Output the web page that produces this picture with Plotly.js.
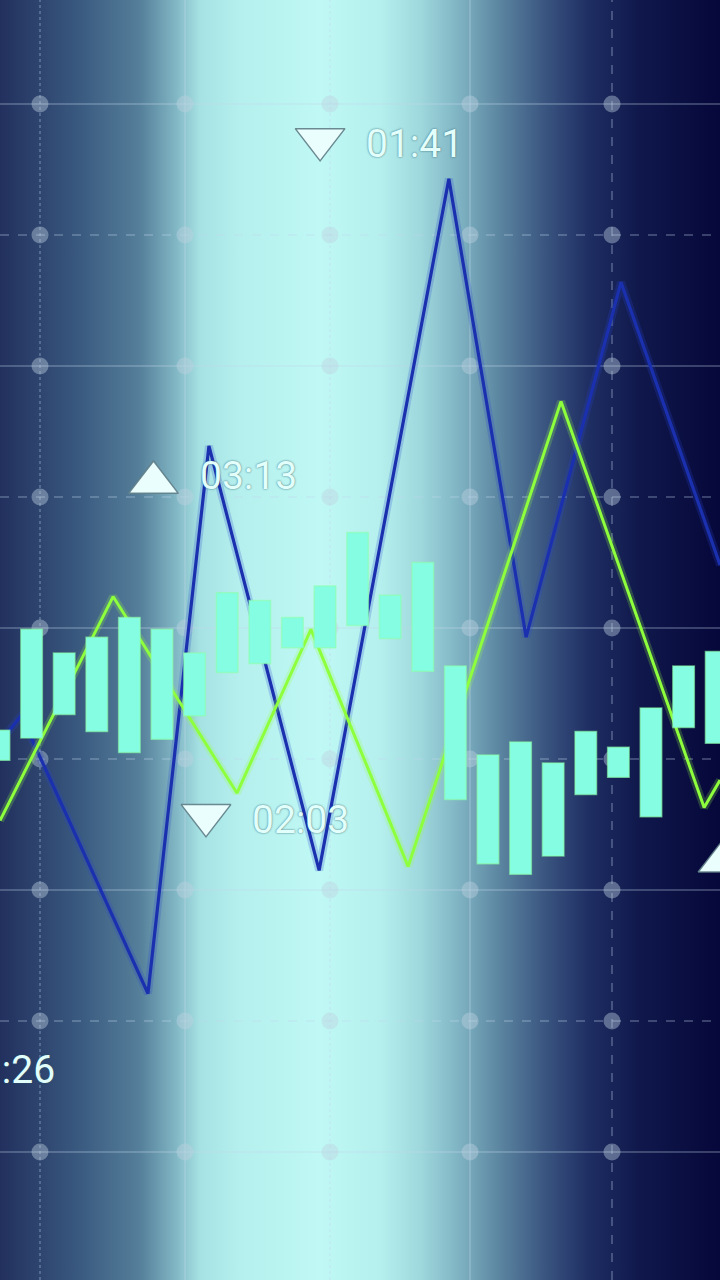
<!DOCTYPE html>
<html>
<head>
<meta charset="utf-8">
<script src="https://cdn.plot.ly/plotly-3.0.1.min.js"></script>
<style>
  html, body { margin: 0; padding: 0; background: #07083a; }
  #chart {
    width: 720px; height: 1280px;
    background: linear-gradient(to right,
      #22305e 0px, #3a5a80 80px, #557f9a 140px, #80b5c3 175px, #a6e2e4 200px,
      #b5f0ee 240px, #bff8f4 320px, #b5f0ee 380px, #9fd8dd 420px, #7eb2c2 460px,
      #5b85a0 500px, #3a5580 545px, #1e2d62 590px, #10184b 640px, #06073a 720px);
  }
</style>
</head>
<body>
<div id="chart"></div>
<script>
// ---- data ----
const barIndex = [0,1,2,3,4,5,6,7,8,9,10,11,12,13,14,15,16,17,18,19,20,21,22];
const barHigh = [42.2,49.9,48.1,49.3,50.8,49.9,48.1,52.7,52.1,50.8,53.2,57.3,52.5,55.0,47.1,40.3,41.3,39.7,42.1,40.9,43.9,47.1,48.2];
const barLow  = [39.9,41.6,43.4,42.1,40.5,41.5,43.3,46.6,47.3,48.5,48.5,50.2,49.2,46.7,36.9,32.0,31.2,32.6,37.3,38.6,35.6,42.4,41.2];

const blueX = [0.03, 0.68, 4.57, 6.44, 9.82, 13.80, 16.17, 19.08, 22.12];
const blueY = [41.3, 43.3, 22.1, 63.9, 31.5, 84.3, 49.3, 76.4, 54.8];

const greenX = [0.03, 3.50, 7.30, 9.57, 12.55, 17.24, 21.63, 22.12];
const greenY = [35.3, 52.4, 37.4, 49.9, 31.8, 67.3, 36.3, 38.4];

const gridX = [1.258, 5.706, 10.153, 14.448, 18.804];
const gridXDash = ['dot', 'solid', 'dot', 'solid', 'dash'];
const gridY = [10, 20, 30, 40, 50, 60, 70, 80, 90];
const gridYDash = ['solid', 'dash', 'solid', 'dash', 'solid', 'dash', 'solid', 'dash', 'solid'];

const sigX = [4.74, 9.85, 6.35, 22.21, -2.67];
const sigY = [61.1, 87.3, 35.7, 32.2, 15.7];
const sigDir = ['up', 'down', 'down', 'up', 'up'];
const sigLabel = ['03:13', '01:41', '02:03', '', '01:26'];

// ---- axes ranges ----
const X0 = 0.031, X1 = 22.117;
const Y0 = 0.23, Y1 = 97.94;

const gridColor = 'rgba(195,215,235,0.36)';

const shapes = [];
gridX.forEach((gx, i) => shapes.push({
  type: 'line', xref: 'x', yref: 'paper', x0: gx, x1: gx, y0: 0, y1: 1,
  line: { color: gridColor, width: 1.5, dash: gridXDash[i] }, layer: 'below'
}));
gridY.forEach((gy, i) => shapes.push({
  type: 'line', xref: 'paper', yref: 'y', x0: 0, x1: 1, y0: gy, y1: gy,
  line: { color: gridColor, width: 1.5, dash: gridYDash[i] }, layer: 'below'
}));

const dotX = [], dotY = [];
gridX.forEach(gx => gridY.forEach(gy => { dotX.push(gx); dotY.push(gy); }));

const traces = [
  { type: 'scatter', mode: 'markers', x: dotX, y: dotY, xaxis: 'x', yaxis: 'y',
    marker: { size: 17, color: 'rgba(190,210,225,0.42)' }, hoverinfo: 'skip' },
  { type: 'scatter', mode: 'lines', x: blueX, y: blueY, xaxis: 'x', yaxis: 'y',
    line: { color: 'rgba(40,70,210,0.22)', width: 8 }, hoverinfo: 'skip' },
  { type: 'scatter', mode: 'lines', x: blueX, y: blueY, xaxis: 'x', yaxis: 'y',
    line: { color: '#1a30ae', width: 3.2 } },
  { type: 'scatter', mode: 'lines', x: greenX, y: greenY, xaxis: 'x', yaxis: 'y',
    line: { color: 'rgba(150,255,70,0.22)', width: 8 }, hoverinfo: 'skip' },
  { type: 'scatter', mode: 'lines', x: greenX, y: greenY, xaxis: 'x', yaxis: 'y',
    line: { color: '#8dff3c', width: 3 } },
  { type: 'bar', x: barIndex, y: barHigh.map((h, i) => h - barLow[i]), base: barLow,
    xaxis: 'x2', yaxis: 'y2', width: 0.66,
    marker: { color: '#84fde3', line: { color: 'rgba(140,255,170,0.6)', width: 1.5 } } },
  { type: 'scatter', mode: 'markers', x: sigX, y: sigY, xaxis: 'x2', yaxis: 'y2',
    marker: {
      size: 43,
      symbol: sigDir.map(d => d === 'up' ? 'triangle-up' : 'triangle-down'),
      color: '#eafffd',
      line: { color: 'rgba(95,125,135,0.9)', width: 1.5 }
    } }
];

const annotations = sigLabel.map((t, i) => t ? ({
  xref: 'paper', yref: 'paper',
  x: (sigX[i] - X0) / (X1 - X0), y: (sigY[i] - Y0) / (Y1 - Y0),
  text: t, showarrow: false, xanchor: 'left', yanchor: 'middle',
  xshift: 44, yshift: sigDir[i] === 'up' ? 7 : -5,
  font: { family: 'Roboto', size: 39, weight: 400, color: '#e2fffb',
          shadow: '0px 0px 2px rgba(40,90,105,0.95)' }
}) : null).filter(a => a);

const axisCommon = { visible: false, fixedrange: true };
const layout = {
  width: 720, height: 1280,
  margin: { l: 0, r: 0, t: 0, b: 0, pad: 0 },
  paper_bgcolor: 'rgba(0,0,0,0)', plot_bgcolor: 'rgba(0,0,0,0)',
  showlegend: false,
  xaxis: Object.assign({ range: [X0, X1] }, axisCommon),
  yaxis: Object.assign({ range: [Y0, Y1] }, axisCommon),
  xaxis2: Object.assign({ range: [X0, X1], overlaying: 'x' }, axisCommon),
  yaxis2: Object.assign({ range: [Y0, Y1], overlaying: 'y' }, axisCommon),
  shapes: shapes,
  annotations: annotations
};

Plotly.newPlot('chart', traces, layout, { displayModeBar: false, staticPlot: true });
</script>
</body>
</html>
